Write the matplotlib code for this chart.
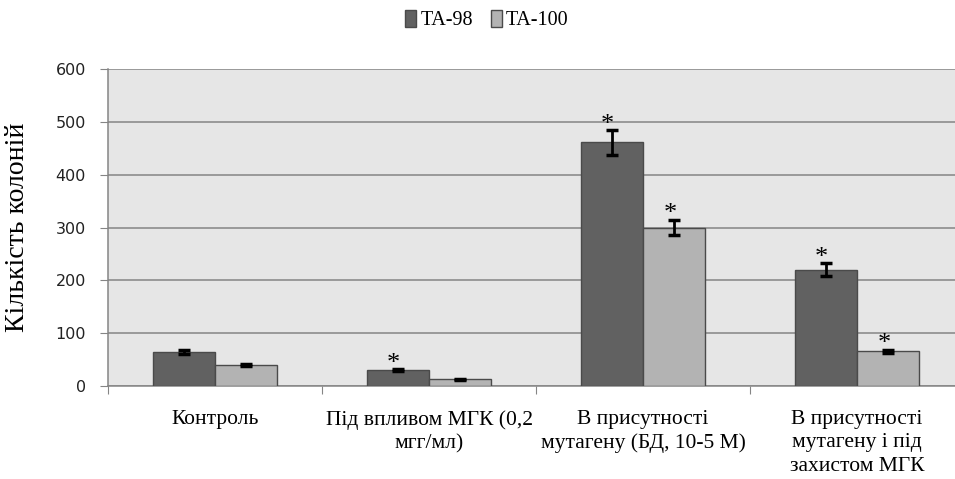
import matplotlib
matplotlib.use("Agg")
import matplotlib.pyplot as plt
import numpy as np

categories = ["Контроль", "Під впливом МГК (0,2\nмгг/мл)",
              "В присутності\nмутагену (БД, 10-5 М)",
              "В присутності\nмутагену і під\nзахистом МГК"]
series_names = ["ТА-98", "ТА-100"]
ta98 = [64, 30, 461, 220]
ta100 = [40, 13, 300, 66]
err98 = [4, 2, 23, 12]
err100 = [2, 1, 15, 3]
star98 = [False, True, True, True]
star100 = [False, False, True, True]
yticks = [0, 100, 200, 300, 400, 500, 600]

serif = ["Liberation Serif", "DejaVu Serif"]

fig = plt.figure(figsize=(9.55, 4.79), dpi=100)
ax = fig.add_axes([108/955, 1-386/479, 856/955, (386-69)/479])
ax.set_facecolor("#e6e6e6")

x = np.arange(len(categories))
w = 0.29
c98 = "#616161"
c100 = "#b3b3b3"
b1 = ax.bar(x - w/2, ta98, w, color=c98, edgecolor="#4a4a4a", linewidth=1, zorder=3, label=series_names[0])
b2 = ax.bar(x + w/2, ta100, w, color=c100, edgecolor="#4a4a4a", linewidth=1, zorder=3, label=series_names[1])
ekw = dict(fmt="none", ecolor="black", elinewidth=2, capsize=4, capthick=2.5, zorder=4)
ax.errorbar(x - w/2, ta98, yerr=err98, **ekw)
ax.errorbar(x + w/2, ta100, yerr=err100, **ekw)

for xi, v, e, s in zip(x - w/2, ta98, err98, star98):
    if s:
        ax.annotate("*", (xi, v + e), xytext=(-3, -4), textcoords="offset points",
                    ha="center", va="bottom", fontsize=19, family=serif, zorder=5)
for xi, v, e, s in zip(x + w/2, ta100, err100, star100):
    if s:
        ax.annotate("*", (xi, v + e), xytext=(-3, -4), textcoords="offset points",
                    ha="center", va="bottom", fontsize=19, family=serif, zorder=5)

ax.set_xlim(-0.5, len(categories) - 0.5)
ax.set_ylim(0, 600)
ax.set_yticks(yticks)
ax.yaxis.grid(True, color="#858585", linewidth=1.1, zorder=0)
ax.set_axisbelow(True)
for sp in ["top", "right"]:
    ax.spines[sp].set_visible(False)
for sp in ["left", "bottom"]:
    ax.spines[sp].set_color("#858585")
    ax.spines[sp].set_linewidth(1.1)
ax.tick_params(axis="y", length=6, color="#858585", labelsize=11.5, pad=10, labelcolor="#222222")
ax.set_xticks(np.arange(-0.5, len(categories), 1.0), minor=False)
ax.set_xticklabels([])
ax.tick_params(axis="x", length=6, color="#858585", direction="out")
for xi, lab in zip(x, categories):
    ax.text(xi, -0.075, lab, transform=ax.get_xaxis_transform(), ha="center", va="top",
            fontsize=15.5, family=serif, linespacing=1.33)

ax.set_ylabel("Кількість колоній", family=serif, fontsize=20, labelpad=18)

leg = fig.legend(handles=[b1, b2], labels=series_names, loc="center", bbox_to_anchor=(487/955, 1-20/479),
                 ncol=2, frameon=False, prop={"family": serif, "size": 14.5},
                 handlelength=0.55, handleheight=0.9, handletextpad=0.2, columnspacing=0.9)

fig.savefig("out.png", dpi=100)
